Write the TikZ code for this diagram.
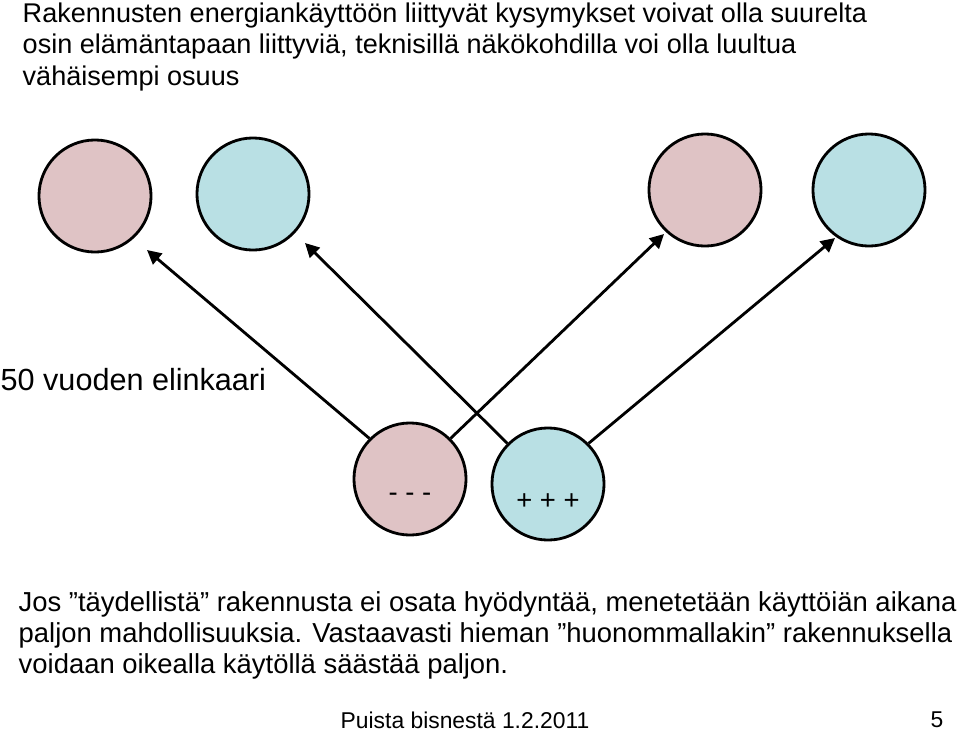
\documentclass[tikz,border=0pt]{standalone}
\usepackage{fontspec}
\setmainfont{Liberation Sans}
\usetikzlibrary{positioning,arrows.meta}
\definecolor{lifepink}{HTML}{DFC3C5}
\definecolor{lifeblue}{HTML}{B9E0E4}
\begin{document}
\begin{tikzpicture}[x=0.01cm,y=-0.01cm,
	ball/.style={draw,circle,line width=0.8pt,minimum size=1.12cm,inner sep=0pt},
	pinkball/.style={ball,fill=lifepink},
	blueball/.style={ball,fill=lifeblue},
	life/.style={-{Triangle[length=4pt,width=4pt]},line width=0.8pt},
	txt/.style={anchor=west,inner sep=0pt,font=\fontsize{7.7pt}{9pt}\selectfont},
	para/.style={anchor=west,inner sep=0pt,font=\fontsize{7.8pt}{9pt}\selectfont}
	]
	\useasboundingbox (0,0) rectangle (960,730);
	\node[txt] (title1) at (22,15) {Rakennusten energiankäyttöön liittyvät kysymykset voivat olla suurelta};
	\node[txt] (title2) at (22,46) {osin elämäntapaan liittyviä, teknisillä näkökohdilla voi olla luultua};
	\node[txt] (title3) at (22,78) {vähäisempi osuus};
	\node[pinkball] (ownbad) at (95,196) {};
	\node[blueball] (ownok) at (253,194) {};
	\node[pinkball] (usebad) at (705,190) {};
	\node[blueball] (useok) at (869,190) {};
	\node[txt,font=\fontsize{8.7pt}{10pt}\selectfont] (cycle) at (0,380) {50 vuoden elinkaari};
	\node[pinkball] (minus) at (410,479) {};
	\node[blueball] (plus) at (548,484) {};
	\node at (minus) [yshift=-0.18cm,font=\fontsize{7.8pt}{9pt}\selectfont] {- - -};
	\node at (plus) [yshift=-0.18cm,font=\fontsize{7.8pt}{9pt}\selectfont] {+ + +};
	\coordinate (tip1) at (147,250);
	\coordinate (tip2) at (305,243);
	\coordinate (tip3) at (664,234);
	\coordinate (tip4) at (835,238);
	\draw[life] (minus.135) -- (tip1);
	\draw[life] (minus.45) -- (tip3);
	\draw[life] (plus.135) -- (tip2);
	\draw[life] (plus.45) -- (tip4);
	\node[para] (text1) at (18,604) {Jos ”täydellistä” rakennusta ei osata hyödyntää, menetetään käyttöiän aikana};
	\node[para] (text2) at (18,635) {paljon mahdollisuuksia. Vastaavasti hieman ”huonommallakin” rakennuksella};
	\node[para] (text3) at (18,666) {voidaan oikealla käytöllä säästää paljon.};
	\node[txt,font=\fontsize{6.5pt}{8pt}\selectfont] (footer) at (340,720) {Puista bisnestä 1.2.2011};
	\node[txt,font=\fontsize{6.5pt}{8pt}\selectfont] (page) at (930,720) {5};
\end{tikzpicture}
\end{document}
